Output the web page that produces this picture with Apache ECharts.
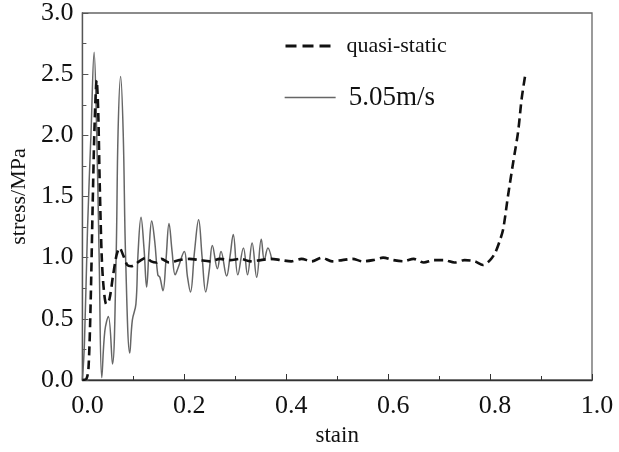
<!DOCTYPE html>
<html>
<head>
<meta charset="utf-8">
<script src="https://cdn.jsdelivr.net/npm/echarts@6/dist/echarts.min.js"></script>
<style>
html,body{margin:0;padding:0;background:#fff;}
#chart{width:619px;height:452px;}
</style>
</head>
<body>
<div id="chart"></div>
<script>
// strain / stress pairs
const quasiStrain = [0,0.008,0.012,0.016,0.020,0.024,0.028,0.031,0.034,0.038,0.042,0.047,0.053,0.060,0.067,0.073,0.080,0.088,0.096,0.105,0.115,0.125,0.135,0.145,0.155,0.17,0.19,0.21,0.23,0.25,0.27,0.29,0.31,0.33,0.35,0.37,0.39,0.41,0.43,0.45,0.47,0.49,0.51,0.53,0.55,0.57,0.59,0.61,0.63,0.65,0.67,0.69,0.71,0.73,0.75,0.77,0.786,0.80,0.81,0.82,0.826,0.835,0.845,0.855,0.862,0.870];
const quasiStress = [0,0.01,0.10,0.60,1.40,2.10,2.45,2.20,1.60,1.00,0.74,0.62,0.66,0.85,1.02,1.08,1.02,0.94,0.93,0.95,0.98,1.00,0.97,0.96,0.99,0.96,0.98,0.99,0.98,0.97,0.99,0.98,0.99,0.97,0.98,0.99,0.98,0.97,0.99,0.97,1.00,0.97,0.98,0.99,0.97,0.98,1.00,0.98,0.97,0.99,0.96,0.98,0.98,0.96,0.98,0.97,0.94,0.98,1.04,1.15,1.24,1.50,1.77,2.03,2.30,2.52];

const dynStrain = [0,0.004,0.010,0.017,0.023,0.028,0.033,0.038,0.044,0.051,0.059,0.066,0.070,0.075,0.080,0.085,0.093,0.098,0.105,0.109,0.115,0.121,0.126,0.131,0.136,0.142,0.148,0.152,0.158,0.164,0.170,0.176,0.182,0.188,0.200,0.206,0.212,0.220,0.228,0.235,0.242,0.249,0.255,0.265,0.272,0.283,0.290,0.296,0.305,0.316,0.324,0.333,0.342,0.351,0.357,0.364,0.372];
const dynStress = [0,0.30,1.23,2.03,2.68,2.03,0.97,0.02,0.40,0.52,0.13,0.97,2.03,2.48,2.03,0.97,0.22,0.49,0.62,1.02,1.33,1.07,0.76,1.08,1.30,1.13,0.86,0.84,0.73,0.98,1.28,1.05,0.86,0.92,1.05,0.85,0.72,1.05,1.31,1.00,0.72,0.90,1.10,0.91,1.05,0.85,1.02,1.19,0.86,1.08,0.86,1.12,0.84,1.15,0.98,1.08,0.98];

const xTicks = [0, 0.2, 0.4, 0.6, 0.8, 1.0];
const yTicks = [0, 0.5, 1.0, 1.5, 2.0, 2.5, 3.0];
const seriesNames = ['quasi-static', '5.05m/s'];

const pair = (xs, ys) => xs.map((x, i) => [x, ys[i]]);
const FONT = 'Liberation Serif';

const chart = echarts.init(document.getElementById('chart'), null, {renderer: 'canvas'});
chart.setOption({
  animation: false,
  backgroundColor: '#fff',
  grid: {left: 82, right: 27, top: 12, bottom: 64, show: true, borderColor: '#666', borderWidth: 1.3, backgroundColor: 'transparent'},
  legend: [
    {data: [seriesNames[0]], left: 279, top: 30, itemWidth: 46, itemHeight: 14,
     itemStyle: {opacity: 0}, lineStyle: {width: 3, type: [11, 6]},
     textStyle: {fontFamily: FONT, fontSize: 22, color: '#111', padding: [0,0,0,10]}},
    {data: [seriesNames[1]], left: 279, top: 79, itemWidth: 51, itemHeight: 14,
     itemStyle: {opacity: 0}, lineStyle: {width: 1.3},
     textStyle: {fontFamily: FONT, fontSize: 27, color: '#111', padding: [0,0,0,8]}}
  ],
  xAxis: {
    type: 'value', min: xTicks[0], max: xTicks[xTicks.length-1], interval: 0.2,
    name: 'stain', nameLocation: 'middle', nameGap: 44,
    nameTextStyle: {fontFamily: FONT, fontSize: 23, color: '#111'},
    axisLine: {lineStyle: {color: '#333', width: 1.3}},
    axisTick: {inside: true, length: 6, lineStyle: {color: '#333'}},
    minorTick: {show: true, splitNumber: 2, length: 4, lineStyle: {color: '#333'}},
    splitLine: {show: false},
    axisLabel: {fontFamily: FONT, fontSize: 26, color: '#111', margin: 13, padding: [0,0,0,10],
      formatter: v => v.toFixed(1)}
  },
  yAxis: {
    type: 'value', min: yTicks[0], max: yTicks[yTicks.length-1], interval: 0.5,
    name: 'stress/MPa', nameLocation: 'middle', nameGap: 51,
    nameTextStyle: {fontFamily: FONT, fontSize: 22, color: '#111'},
    axisLine: {show: true, lineStyle: {color: '#555', width: 1.3}},
    axisTick: {show: true, inside: true, length: 6, lineStyle: {color: '#555'}},
    minorTick: {show: true, splitNumber: 2, length: 4, lineStyle: {color: '#555'}},
    splitLine: {show: false},
    axisLabel: {fontFamily: FONT, fontSize: 26, color: '#111', margin: 9,
      formatter: v => v.toFixed(1)}
  },
  series: [
    {name: seriesNames[0], type: 'line', data: pair(quasiStrain, quasiStress), symbol: 'none',
     smooth: 0.3, lineStyle: {color: '#111', width: 2.6, type: [9, 5]}, itemStyle: {color: '#111'}, z: 3},
    {name: seriesNames[1], type: 'line', data: pair(dynStrain, dynStress), symbol: 'none',
     smooth: 0.4, lineStyle: {color: '#666', width: 1.5}, itemStyle: {color: '#666'}, z: 2}
  ]
});
</script>
</body>
</html>
